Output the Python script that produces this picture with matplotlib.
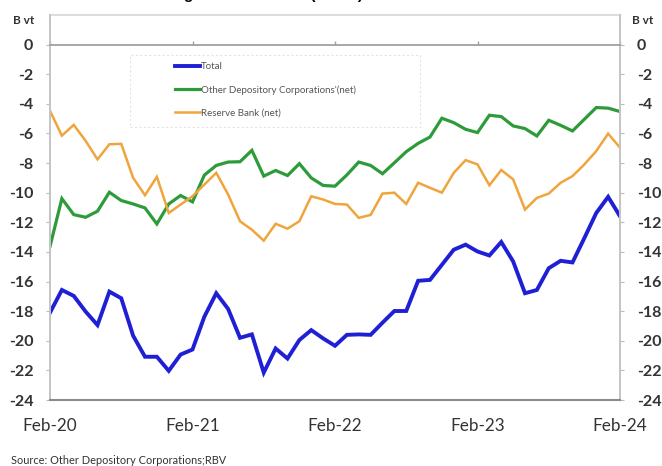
import numpy as np
import pandas as pd
import matplotlib
matplotlib.use("Agg")
import matplotlib.pyplot as plt
from matplotlib.patches import Rectangle

# ---------------- data (B vt), monthly Feb-2020 .. Feb-2024 ----------------
months = pd.date_range("2020-02-01", periods=49, freq="MS")

total = [-18.1, -16.57, -16.97, -18.03, -18.94, -16.68, -17.13, -19.66, -21.08, -21.08,
         -22.03, -20.93, -20.59, -18.37, -16.79, -17.85, -19.8, -19.57, -22.15, -20.52,
         -21.2, -19.95, -19.28, -19.84, -20.34, -19.6, -19.57, -19.6, -18.78, -17.99,
         -17.99, -15.95, -15.89, -14.87, -13.85, -13.51, -13.97, -14.24, -13.33, -14.64,
         -16.79, -16.57, -15.1, -14.6, -14.71, -13.06, -11.37, -10.28, -11.59]

odc = [-13.63, -10.4, -11.48, -11.66, -11.25, -9.97, -10.53, -10.76, -11.03, -12.11,
       -10.76, -10.19, -10.62, -8.81, -8.16, -7.93, -7.91, -7.14, -8.88, -8.5,
       -8.84, -8.04, -9.0, -9.51, -9.56, -8.8, -7.93, -8.16, -8.72, -7.98,
       -7.23, -6.67, -6.24, -4.97, -5.27, -5.72, -5.94, -4.77, -4.86, -5.49,
       -5.67, -6.17, -5.11, -5.45, -5.83, -5.04, -4.25, -4.29, -4.52]

rbv = [-4.47, -6.15, -5.42, -6.5, -7.75, -6.73, -6.7, -9.0, -10.17, -8.93,
       -11.37, -10.8, -10.24, -9.45, -8.66, -10.12, -11.93, -12.5, -13.24, -12.1,
       -12.43, -11.93, -10.24, -10.46, -10.76, -10.8, -11.7, -11.5, -10.06, -10.0,
       -10.76, -9.33, -9.67, -10.0, -8.66, -7.8, -8.09, -9.5, -8.47, -9.1,
       -11.14, -10.35, -10.06, -9.33, -8.88, -8.09, -7.19, -6.01, -6.96]

series_names = ["Total", "Other Depository Corporations'(net)", "Reserve Bank (net)"]
series_colors = ["#1f1fd6", "#2e9b3a", "#f0a53c"]
series_widths = [2.8, 2.3, 1.8]

yticks = list(range(0, -25, -2))
xtick_months = ["Feb-20", "Feb-21", "Feb-22", "Feb-23", "Feb-24"]

# ---------------- figure ----------------
plt.rcParams["font.family"] = ["Lato", "DejaVu Sans"]
W, H = 662, 466
fig = plt.figure(figsize=(W / 100, H / 100), dpi=100)
L, R, T, B = 50, 620, 15, 400
ax = fig.add_axes([L / W, 1 - B / H, (R - L) / W, (B - T) / H])

x = np.arange(len(months))
for vals, name, col, lw in zip([total, odc, rbv], series_names, series_colors, series_widths):
    ax.plot(x, vals, color=col, lw=lw, label=name, solid_joinstyle="miter")

ax.set_xlim(x[0], x[-1])
ax.set_ylim(-24, 2)

lab_col = "#333333"
ax.set_yticks(yticks)
ax.set_yticklabels([str(v) for v in yticks])
ax.tick_params(axis="y", left=True, right=True, labelleft=True, labelright=True,
               direction="out", length=3, width=0.8, color="#bbbbbb", pad=9,
               labelsize=11.5, labelcolor=lab_col)
for lbl in ax.get_yticklabels():
    lbl.set_fontweight("bold")

xt = [i for i, m in enumerate(months) if m.month == 2]
ax.set_xticks(xt)
ax.set_xticklabels(xtick_months)
ax.tick_params(axis="x", bottom=False, top=True, labelbottom=True, labeltop=False,
               direction="out", length=3, width=1.0, color="#a0a0a0", pad=10,
               labelsize=12.3, labelcolor=lab_col)
for lbl in ax.get_xticklabels():
    lbl.set_fontweight("bold")

# top spine acts as the zero line; draw separate faint frame at top
ax.spines["top"].set_position(("data", 0))
ax.spines["top"].set_color("#a0a0a0")
ax.spines["top"].set_linewidth(1.3)
ax.axhline(2, color="#dddddd", lw=1.5, clip_on=False)
ax.spines["left"].set_color("#c4c4c4")
ax.spines["right"].set_color("#c4c4c4")
ax.spines["left"].set_linewidth(1.4)
ax.spines["right"].set_linewidth(1.4)
ax.spines["bottom"].set_color("#8a8a8a")
ax.spines["bottom"].set_linewidth(1.5)

# unit labels
ax.text(-0.046, 0.987, "B vt", transform=ax.transAxes, ha="center", va="center",
        fontsize=8.5, fontweight="bold", color=lab_col)
ax.text(1.040, 0.987, "B vt", transform=ax.transAxes, ha="center", va="center",
        fontsize=8.5, fontweight="bold", color=lab_col)

# legend with faint box
ax.add_patch(Rectangle((0.140, 0.709), 0.509, 0.187, transform=ax.transAxes,
                       fill=False, ec="#e4e4e4", lw=0.8, ls=(0, (2, 2))))
leg = ax.legend(loc="upper left", bbox_to_anchor=(0.219, 0.878), frameon=False,
                borderpad=0, borderaxespad=0, handlelength=2.6, handletextpad=0.1,
                labelspacing=1.45, fontsize=7)
for t in leg.get_texts():
    t.set_color("#555555")

# title (cut off at the top edge, as in the source image) and source note
fig.text(105 / W, 1 + 0.5 / H, "Net Lending to Government (VT bn)", ha="left",
         va="baseline", fontsize=11, fontweight="bold", color="black",
         family=["Liberation Sans", "DejaVu Sans"])
fig.text(11 / W, 1 - 460 / H, "Source: Other Depository Corporations;RBV", ha="left",
         va="center", fontsize=7.9, color="#333333")

fig.savefig("out.png", dpi=100)
